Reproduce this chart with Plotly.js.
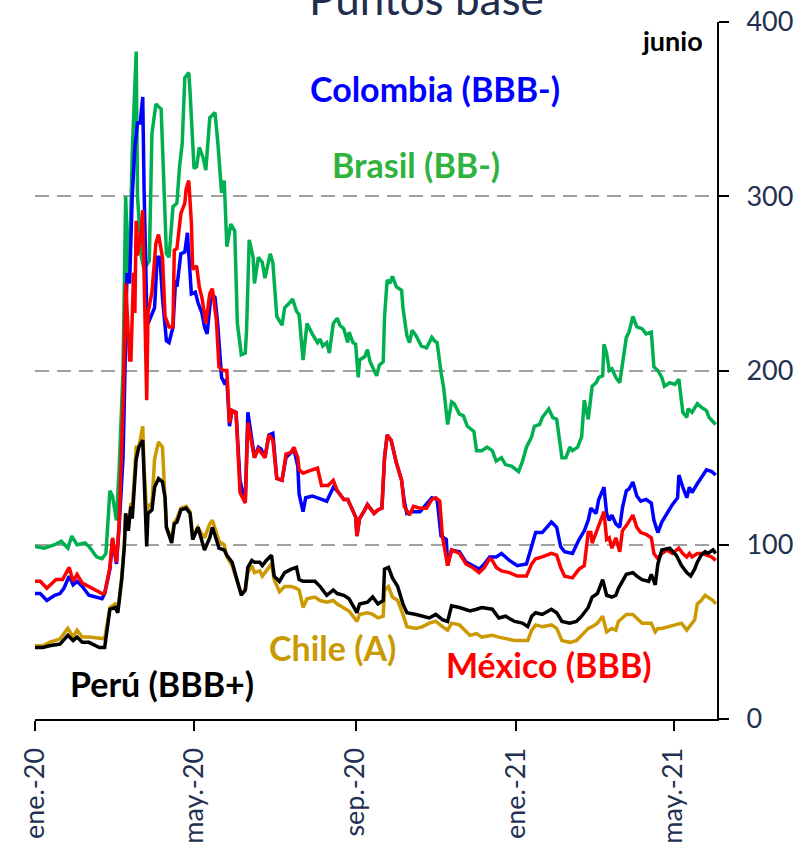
<!DOCTYPE html>
<html>
<head>
<meta charset="utf-8">
<script src="https://cdn.plot.ly/plotly-3.0.1.min.js"></script>
<style>html,body{margin:0;padding:0;background:#fff;}#chart{width:811px;height:846px;}</style>
</head>
<body>
<div id="chart"></div>
<script>
// ---------- DATA (spreads, basis points) ----------
const brDates = [
 '2020-01-01','2020-01-08','2020-01-16','2020-01-21','2020-01-26','2020-01-29','2020-02-02','2020-02-08','2020-02-11','2020-02-17',
 '2020-02-21','2020-02-24','2020-02-27','2020-02-29','2020-03-03','2020-03-05','2020-03-08','2020-03-10','2020-03-12','2020-03-13',
 '2020-03-15','2020-03-18','2020-03-19','2020-03-22','2020-03-24','2020-03-28','2020-03-30','2020-04-02','2020-04-06','2020-04-10',
 '2020-04-12','2020-04-15','2020-04-18','2020-04-20','2020-04-22','2020-04-24','2020-04-27','2020-04-28','2020-05-01','2020-05-03',
 '2020-05-05','2020-05-08','2020-05-10','2020-05-13','2020-05-17','2020-05-19','2020-05-22','2020-05-24','2020-05-26','2020-05-29',
 '2020-06-01','2020-06-03','2020-06-06','2020-06-09','2020-06-10','2020-06-12','2020-06-15','2020-06-16','2020-06-19','2020-06-22',
 '2020-06-24','2020-06-28','2020-06-30','2020-07-03','2020-07-07','2020-07-09','2020-07-13','2020-07-15','2020-07-18','2020-07-20',
 '2020-07-23','2020-07-26','2020-07-30','2020-08-03','2020-08-05','2020-08-07','2020-08-10','2020-08-12','2020-08-15','2020-08-18',
 '2020-08-20','2020-08-23','2020-08-26','2020-08-27','2020-08-30','2020-09-01','2020-09-03','2020-09-04','2020-09-08','2020-09-10',
 '2020-09-12','2020-09-14','2020-09-17','2020-09-19','2020-09-22','2020-09-23','2020-09-25','2020-09-27','2020-09-29','2020-10-02',
 '2020-10-06','2020-10-07','2020-10-10','2020-10-12','2020-10-14','2020-10-17','2020-10-21','2020-10-25','2020-10-29','2020-10-31',
 '2020-11-02','2020-11-05','2020-11-07','2020-11-10','2020-11-13','2020-11-15','2020-11-19','2020-11-22','2020-11-25','2020-11-30',
 '2020-12-02','2020-12-06','2020-12-10','2020-12-14','2020-12-17','2020-12-21','2020-12-24','2020-12-29','2021-01-03','2021-01-06',
 '2021-01-09','2021-01-13','2021-01-15','2021-01-19','2021-01-21','2021-01-26','2021-01-29','2021-02-01','2021-02-03','2021-02-05',
 '2021-02-08','2021-02-11','2021-02-13','2021-02-17','2021-02-20','2021-02-22','2021-02-25','2021-02-28','2021-03-03','2021-03-05',
 '2021-03-08','2021-03-09','2021-03-11','2021-03-13','2021-03-15','2021-03-18','2021-03-21','2021-03-23','2021-03-26','2021-03-28',
 '2021-03-31','2021-04-03','2021-04-07','2021-04-10','2021-04-14','2021-04-16','2021-04-19','2021-04-22','2021-04-24','2021-04-28',
 '2021-05-02','2021-05-05','2021-05-08','2021-05-11','2021-05-12','2021-05-15','2021-05-19','2021-05-22','2021-05-26','2021-05-28',
 '2021-06-01','2021-06-02'];
const brasil = [
 99,98,100,102,98,105,100,101,99,93,
 92,95,131,128,114,143,200,300,256,262,
 325,383,300,265,258,263,336,353,350,267,
 265,294,296,317,330,368,371,360,316,317,
 328,322,315,345,348,332,302,309,271,284,
 280,227,209,210,223,275,265,250,265,262,
 253,267,262,231,226,236,239,241,234,232,
 206,227,221,216,218,214,216,210,227,230,
 226,224,216,222,216,215,196,206,208,212,
 205,202,197,203,205,231,252,250,254,248,
 246,236,220,216,223,220,214,213,219,217,
 216,199,190,169,182,181,175,174,168,165,
 154,154,156,154,148,150,146,145,142,148,
 156,162,168,169,173,178,173,172,160,150,
 150,156,154,156,162,183,172,191,193,196,
 197,215,210,200,201,196,193,204,219,222,
 231,225,224,221,222,202,200,196,191,193,
 192,195,176,173,178,176,181,179,177,173,
 170,169];

const coDates = [
 '2020-01-01','2020-01-05','2020-01-10','2020-01-16','2020-01-20','2020-01-23','2020-01-27','2020-01-30','2020-02-02','2020-02-06',
 '2020-02-11','2020-02-17','2020-02-21','2020-02-23','2020-02-27','2020-02-29','2020-03-03','2020-03-05','2020-03-08','2020-03-09',
 '2020-03-11','2020-03-13','2020-03-15','2020-03-17','2020-03-19','2020-03-21','2020-03-23','2020-03-24','2020-03-26','2020-03-27',
 '2020-03-29','2020-04-01','2020-04-03','2020-04-05','2020-04-07','2020-04-10','2020-04-12','2020-04-15','2020-04-17','2020-04-18',
 '2020-04-21','2020-04-24','2020-04-26','2020-04-29','2020-05-02','2020-05-04','2020-05-07','2020-05-09','2020-05-11','2020-05-14',
 '2020-05-17','2020-05-19','2020-05-22','2020-05-24','2020-05-26','2020-05-28','2020-05-30','2020-06-02','2020-06-05','2020-06-09',
 '2020-06-11','2020-06-14','2020-06-16','2020-06-19','2020-06-21','2020-06-24','2020-06-27','2020-06-30','2020-07-03','2020-07-07',
 '2020-07-10','2020-07-14','2020-07-16','2020-07-19','2020-07-20','2020-07-23','2020-07-25','2020-07-30','2020-08-03','2020-08-06',
 '2020-08-10','2020-08-15','2020-08-18','2020-08-20','2020-08-23','2020-08-26','2020-08-30','2020-09-01','2020-09-02','2020-09-04',
 '2020-09-08','2020-09-10','2020-09-13','2020-09-15','2020-09-18','2020-09-21','2020-09-23','2020-09-25','2020-09-28','2020-10-02',
 '2020-10-06','2020-10-08','2020-10-10','2020-10-14','2020-10-20','2020-10-26','2020-10-29','2020-11-02','2020-11-05','2020-11-09',
 '2020-11-10','2020-11-13','2020-11-19','2020-11-24','2020-11-29','2020-12-04','2020-12-08','2020-12-12','2020-12-17','2020-12-21',
 '2020-12-27','2021-01-02','2021-01-09','2021-01-13','2021-01-16','2021-01-21','2021-01-28','2021-02-01','2021-02-04','2021-02-07',
 '2021-02-13','2021-02-18','2021-02-22','2021-02-25','2021-02-27','2021-03-03','2021-03-05','2021-03-09','2021-03-11','2021-03-13',
 '2021-03-15','2021-03-18','2021-03-21','2021-03-23','2021-03-26','2021-03-28','2021-03-31','2021-04-03','2021-04-06','2021-04-10',
 '2021-04-14','2021-04-16','2021-04-19','2021-04-22','2021-04-26','2021-04-30','2021-05-04','2021-05-05','2021-05-08','2021-05-11',
 '2021-05-13','2021-05-15','2021-05-19','2021-05-23','2021-05-26','2021-05-30','2021-06-02'];
const colombia = [
 72,72,68,71,72,75,82,77,79,76,
 71,70,69,72,86,103,89,110,150,183,
 256,250,300,328,342,342,357,304,236,227,
 231,236,265,265,242,217,216,225,252,248,
 267,268,279,244,245,239,233,225,221,244,
 242,227,196,193,195,168,177,176,137,124,
 176,158,150,156,155,150,163,164,138,137,
 150,153,155,145,129,119,127,128,127,126,
 125,133,131,129,126,126,120,116,105,115,
 120,123,120,118,120,121,150,163,160,147,
 137,125,118,119,119,124,127,126,105,103,
 88,97,96,90,88,86,89,93,93,95,
 91,88,89,99,107,107,113,110,99,96,
 95,103,108,114,121,118,126,133,118,114,
 117,112,110,121,131,132,136,128,125,126,
 124,114,107,113,118,123,127,140,133,127,
 133,130,135,140,143,142,140];

const mxDates = [
 '2020-01-01','2020-01-05','2020-01-10','2020-01-17','2020-01-22','2020-01-27','2020-01-30','2020-02-02','2020-02-06','2020-02-11',
 '2020-02-17','2020-02-21','2020-02-23','2020-02-27','2020-02-29','2020-03-03','2020-03-05','2020-03-08','2020-03-10','2020-03-13',
 '2020-03-14','2020-03-16','2020-03-17','2020-03-18','2020-03-19','2020-03-21','2020-03-23','2020-03-24','2020-03-26','2020-03-27',
 '2020-03-29','2020-03-30','2020-04-02','2020-04-04','2020-04-07','2020-04-09','2020-04-12','2020-04-15','2020-04-16','2020-04-18',
 '2020-04-21','2020-04-24','2020-04-25','2020-04-27','2020-04-29','2020-04-30','2020-05-03','2020-05-05','2020-05-07','2020-05-10',
 '2020-05-13','2020-05-15','2020-05-18','2020-05-20','2020-05-23','2020-05-26','2020-05-28','2020-05-30','2020-06-02','2020-06-05',
 '2020-06-09','2020-06-11','2020-06-14','2020-06-16','2020-06-19','2020-06-21','2020-06-24','2020-06-27','2020-06-30','2020-07-03',
 '2020-07-07','2020-07-10','2020-07-14','2020-07-16','2020-07-19','2020-07-20','2020-07-23','2020-07-26','2020-07-30','2020-08-03',
 '2020-08-06','2020-08-11','2020-08-15','2020-08-18','2020-08-20','2020-08-23','2020-08-26','2020-08-30','2020-09-01','2020-09-02',
 '2020-09-04','2020-09-08','2020-09-10','2020-09-13','2020-09-15','2020-09-18','2020-09-21','2020-09-23','2020-09-25','2020-09-28',
 '2020-10-02','2020-10-06','2020-10-08','2020-10-12','2020-10-15','2020-10-20','2020-10-25','2020-10-29','2020-11-01','2020-11-04',
 '2020-11-06','2020-11-10','2020-11-13','2020-11-19','2020-11-24','2020-11-29','2020-12-04','2020-12-08','2020-12-12','2020-12-14',
 '2020-12-17','2020-12-21','2020-12-27','2021-01-02','2021-01-09','2021-01-13','2021-01-16','2021-01-21','2021-01-28','2021-02-01',
 '2021-02-04','2021-02-07','2021-02-13','2021-02-18','2021-02-22','2021-02-25','2021-02-27','2021-02-28','2021-03-03','2021-03-05',
 '2021-03-09','2021-03-11','2021-03-13','2021-03-15','2021-03-18','2021-03-21','2021-03-23','2021-03-26','2021-03-31','2021-04-03',
 '2021-04-06','2021-04-10','2021-04-14','2021-04-16','2021-04-19','2021-04-22','2021-04-26','2021-04-30','2021-05-05','2021-05-08',
 '2021-05-11','2021-05-13','2021-05-15','2021-05-19','2021-05-23','2021-05-26','2021-05-30','2021-06-02'];
const mexico = [
 79,79,75,80,80,87,79,83,78,76,
 74,72,72,87,104,90,112,180,250,206,
 206,256,233,286,266,275,292,260,183,233,
 240,245,273,278,265,231,225,225,269,270,
 290,296,304,309,285,258,260,248,242,227,
 244,247,229,202,200,200,170,177,176,130,
 124,170,158,150,155,153,150,163,160,138,
 137,152,153,156,150,143,141,142,143,144,
 134,134,137,131,129,126,126,120,116,105,
 115,120,123,120,118,120,121,150,163,160,
 147,137,122,117,122,121,121,126,127,125,
 105,88,97,95,89,87,84,87,92,91,
 87,85,84,82,82,89,92,93,95,94,
 87,82,81,86,88,107,107,101,107,112,
 119,103,104,98,104,96,108,111,117,110,
 107,106,104,95,92,95,97,95,98,95,
 93,95,93,95,95,94,93,91];

const clpeDates = [
 '2020-01-01','2020-01-07','2020-01-12','2020-01-20','2020-01-26','2020-01-30','2020-02-02','2020-02-06','2020-02-11','2020-02-19',
 '2020-02-23','2020-02-27','2020-03-02','2020-03-04','2020-03-07','2020-03-09','2020-03-10','2020-03-12','2020-03-14','2020-03-15',
 '2020-03-18','2020-03-20','2020-03-23','2020-03-24','2020-03-26','2020-03-27','2020-03-30','2020-04-01','2020-04-04','2020-04-07',
 '2020-04-09','2020-04-10','2020-04-14','2020-04-16','2020-04-18','2020-04-21','2020-04-25','2020-04-28','2020-04-30','2020-05-04',
 '2020-05-07','2020-05-09','2020-05-13','2020-05-15','2020-05-18','2020-05-20','2020-05-24','2020-05-26','2020-05-30','2020-06-03',
 '2020-06-06','2020-06-09','2020-06-11','2020-06-14','2020-06-16','2020-06-20','2020-06-22','2020-06-25','2020-06-29','2020-07-01',
 '2020-07-05','2020-07-09','2020-07-14','2020-07-18','2020-07-20','2020-07-23','2020-07-26','2020-08-01','2020-08-05','2020-08-10',
 '2020-08-15','2020-08-18','2020-08-23','2020-08-27','2020-09-02','2020-09-04','2020-09-10','2020-09-14','2020-09-18','2020-09-22',
 '2020-09-23','2020-09-26','2020-09-29','2020-10-03','2020-10-07','2020-10-10','2020-10-17','2020-10-22','2020-10-27','2020-11-01',
 '2020-11-06','2020-11-10','2020-11-13','2020-11-19','2020-11-27','2020-12-02','2020-12-06','2020-12-14','2020-12-19','2020-12-24',
 '2020-12-31','2021-01-06','2021-01-10','2021-01-13','2021-01-16','2021-01-21','2021-01-28','2021-02-01','2021-02-05','2021-02-11',
 '2021-02-16','2021-02-20','2021-02-25','2021-02-28','2021-03-04','2021-03-08','2021-03-11','2021-03-15','2021-03-18','2021-03-20',
 '2021-03-26','2021-03-31','2021-04-03','2021-04-07','2021-04-12','2021-04-14','2021-04-17','2021-04-19','2021-04-22','2021-04-28',
 '2021-05-03','2021-05-07','2021-05-11','2021-05-14','2021-05-17','2021-05-19','2021-05-22','2021-05-25','2021-05-27','2021-05-31',
 '2021-06-02'];
const peru = [
 41,41,42,43,48,45,47,44,44,41,
 41,63,64,61,80,99,118,108,122,115,
 149,156,160,141,99,118,120,133,138,136,
 127,110,101,112,113,120,121,118,103,110,
 103,97,104,110,103,98,97,94,90,78,
 71,74,87,91,90,90,88,91,94,82,
 79,84,86,87,80,79,79,79,76,71,
 74,72,71,69,61,66,67,70,66,68,
 86,87,81,76,66,61,60,59,58,60,
 57,56,65,64,62,63,64,63,58,59,
 56,55,53,59,61,60,63,61,56,55,
 56,59,64,70,72,80,71,70,71,75,
 83,84,82,80,79,83,77,89,97,98,
 94,88,84,82,86,90,94,96,95,97,
 95];
const chile = [
 42,42,44,46,52,47,51,47,47,46,
 46,64,66,62,82,101,118,110,124,120,
 156,156,168,145,118,122,124,149,159,156,
 130,110,103,113,115,121,122,119,105,110,
 106,104,112,114,107,102,100,93,88,78,
 72,74,84,88,84,85,82,85,89,80,
 73,76,76,75,74,64,69,70,68,67,
 68,66,64,62,56,60,61,60,58,59,
 74,76,70,68,60,53,52,53,55,56,
 53,51,55,54,48,49,47,48,47,46,
 45,45,45,51,54,53,54,52,45,44,
 45,48,52,53,55,59,50,52,51,56,
 60,60,58,55,55,55,50,52,52,53,
 54,55,51,54,57,66,68,71,70,68,
 66];

const tickDates = ['2020-01-01','2020-05-01','2020-09-01','2021-01-01','2021-05-01'];
const tickLabels = ['ene.-20','may.-20','sep.-20','ene.-21','may.-21'];
const yTicks = [0,100,200,300,400];

// ---------- CHART ----------
function line(x, y, color, name) {
  return {type:'scatter', mode:'lines', x:x, y:y, name:name,
          line:{color:color, width:3.5}, hoverinfo:'skip'};
}
const traces = [
  line(brDates, brasil, '#00b050', 'Brasil (BB-)'),
  line(coDates, colombia, '#0000ff', 'Colombia (BBB-)'),
  line(mxDates, mexico, '#ff0000', 'México (BBB)'),
  line(clpeDates, chile, '#cc9900', 'Chile (A)'),
  line(clpeDates, peru, '#000000', 'Perú (BBB+)')
];

const F = 'Lato, "Open Sans", sans-serif';
function lab(text, x, y, color, size) {
  return {text:'<b>'+text+'</b>', xref:'paper', yref:'paper', x:x, y:y,
          xanchor:'center', yanchor:'middle', showarrow:false,
          font:{family:F, size:size, color:color}};
}

const layout = {
  width:811, height:846,
  margin:{l:35, r:94, t:22, b:127, pad:0},
  paper_bgcolor:'#ffffff', plot_bgcolor:'#ffffff',
  showlegend:false,
  font:{family:F, color:'#1f3050'},
  xaxis:{
    type:'date', range:['2020-01-01','2021-06-03'],
    tickmode:'array', tickvals:tickDates, ticktext:tickLabels,
    tickangle:-90, ticks:'outside', ticklen:10, tickwidth:2, tickcolor:'#000',
    ticklabelstandoff:6,
    showline:true, linecolor:'#000', linewidth:2, showgrid:false, zeroline:false,
    tickfont:{family:F, size:27, color:'#1f3050'}
  },
  yaxis:{
    side:'right', range:[0,400], tickmode:'array', tickvals:yTicks,
    ticks:'outside', ticklen:10, tickwidth:2, tickcolor:'#000',
    ticklabelstandoff:12,
    showline:true, linecolor:'#000', linewidth:2,
    showgrid:true, gridcolor:'#a0a0a0', gridwidth:2, griddash:'14px,8px',
    zeroline:false,
    tickfont:{family:F, size:27, color:'#1f3050'}
  },
  annotations:[
    {text:'Puntos base', xref:'paper', yref:'paper', x:0.574, y:0.994,
     xanchor:'center', yanchor:'bottom', showarrow:false,
     font:{family:F, size:44, color:'#1f2d4e'}},
    lab('junio', 0.934, 0.974, '#000000', 27),
    lab('Colombia (BBB-)', 0.5865, 0.905, '#0000ff', 34),
    lab('Brasil (BB-)', 0.5587, 0.795, '#2fb33e', 34),
    lab('Chile (A)', 0.4355, 0.102, '#c99a00', 34),
    lab('México (BBB)', 0.7537, 0.0775, '#ff0000', 34),
    lab('Perú (BBB+)', 0.1862, 0.0516, '#000000', 34)
  ]
};

Plotly.newPlot('chart', traces, layout, {staticPlot:true, displayModeBar:false});
</script>
</body>
</html>
